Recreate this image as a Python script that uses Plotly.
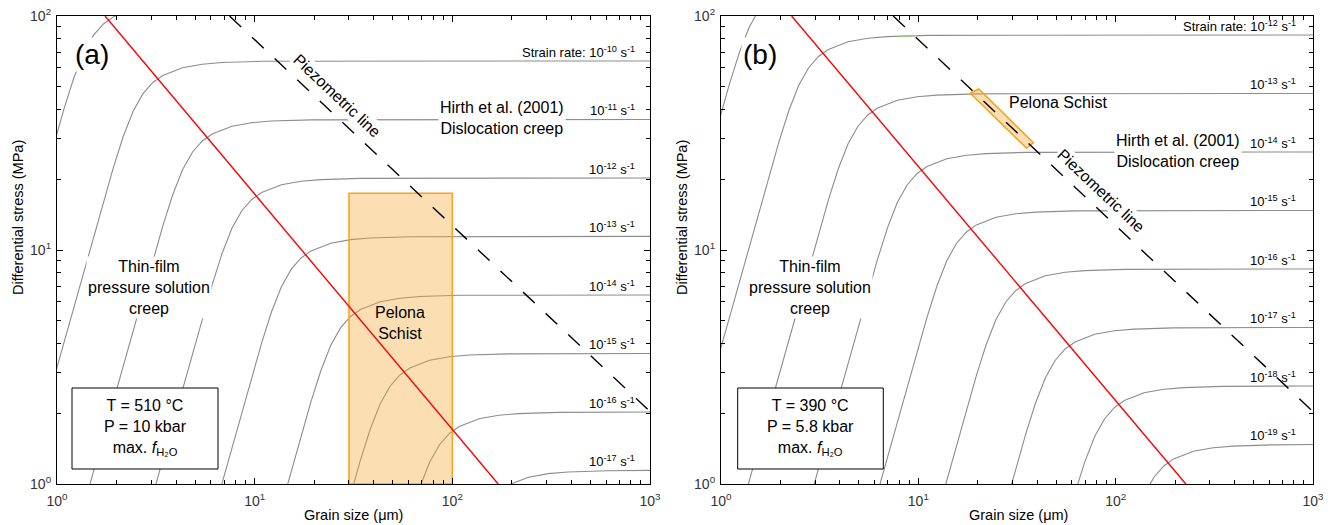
import plotly.graph_objects as go
import numpy as np

# ---------------- Panel (a): T = 510 °C, P = 10 kbar ----------------
# grain size (µm) / differential stress (MPa) along each iso-strain-rate curve
a_d_e9 = [0.1531, 0.9661, 1.084, 1.216, 1.365, 1.531, 1.718, 1.927, 2.427, 3.055, 3.846, 6.095, 1000]
a_s_e9 = [0.1143, 28.58, 39.99, 54.33, 69.67, 82.80, 92.48, 99.10, 106.9, 110.7, 112.5, 113.9, 114.3]
a_d_e10 = [0.2723, 1.718, 1.928, 2.163, 2.427, 2.723, 3.055, 3.428, 4.315, 5.433, 6.839, 10.84, 1000]
a_s_e10 = [0.0643, 16.07, 22.49, 30.55, 39.17, 46.56, 52.00, 55.72, 60.12, 62.23, 63.24, 64.02, 64.27]
a_d_e11 = [0.4842, 3.055, 3.428, 3.846, 4.315, 4.842, 5.433, 6.095, 7.674, 9.661, 12.16, 19.27, 1000]
a_s_e11 = [0.0361, 9.035, 12.65, 17.18, 22.03, 26.18, 29.24, 31.33, 33.81, 34.99, 35.56, 36.00, 36.14]
a_d_e12 = [0.8610, 5.433, 6.095, 6.839, 7.674, 8.610, 9.661, 10.84, 13.65, 17.18, 21.63, 34.28, 1000]
a_s_e12 = [0.0203, 5.080, 7.110, 9.658, 12.39, 14.72, 16.44, 17.62, 19.01, 19.68, 19.99, 20.24, 20.32]
a_d_e13 = [1.531, 9.661, 10.84, 12.16, 13.65, 15.31, 17.18, 19.27, 24.27, 30.55, 38.46, 60.95, 1000]
a_s_e13 = [0.0114, 2.858, 3.999, 5.433, 6.967, 8.280, 9.248, 9.910, 10.69, 11.07, 11.25, 11.39, 11.43]
a_d_e14 = [2.723, 17.18, 19.27, 21.63, 24.27, 27.23, 30.55, 34.28, 43.15, 54.33, 68.39, 108.4, 1000]
a_s_e14 = [0.0064, 1.607, 2.249, 3.055, 3.917, 4.656, 5.200, 5.572, 6.012, 6.223, 6.324, 6.402, 6.427]
a_d_e15 = [4.842, 30.55, 34.28, 38.46, 43.15, 48.42, 54.33, 60.95, 76.74, 96.61, 121.6, 192.7, 1000]
a_s_e15 = [0.0036, 0.9035, 1.265, 1.718, 2.203, 2.618, 2.924, 3.133, 3.381, 3.499, 3.556, 3.600, 3.614]
a_d_e16 = [8.610, 54.33, 60.95, 68.39, 76.74, 86.10, 96.61, 108.4, 136.5, 171.8, 216.3, 342.8, 1000]
a_s_e16 = [0.0020, 0.508, 0.711, 0.9658, 1.239, 1.472, 1.644, 1.762, 1.901, 1.968, 1.999, 2.024, 2.032]
a_d_e17 = [15.31, 96.61, 108.4, 121.6, 136.5, 153.1, 171.8, 192.7, 242.7, 305.5, 384.6, 609.5, 1000]
a_s_e17 = [0.0011, 0.2858, 0.3999, 0.5433, 0.6967, 0.8280, 0.9248, 0.9910, 1.069, 1.107, 1.125, 1.139, 1.143]

a_boundary_d = [1.75, 170.6]      # red field boundary
a_boundary_s = [100, 1]
a_pelona_d = [30, 100, 100, 30, 30]
a_pelona_s = [1, 1, 17.5, 17.5, 1]
a_label_exps = [-10, -11, -12, -13, -14, -15, -16, -17]

# ---------------- Panel (b): T = 390 °C, P = 5.8 kbar ----------------
b_d_e11 = [0.1563, 0.9863, 1.107, 1.242, 1.393, 1.563, 1.754, 1.968, 2.477, 3.119, 3.926, 6.223, 1000]
b_s_e11 = [0.1476, 36.90, 51.65, 70.15, 89.96, 106.9, 119.4, 128.0, 138.1, 142.9, 145.2, 147.0, 147.6]
b_d_e12 = [0.2780, 1.754, 1.968, 2.208, 2.477, 2.780, 3.119, 3.500, 4.406, 5.546, 6.982, 11.07, 1000]
b_s_e12 = [0.0830, 20.75, 29.04, 39.45, 50.58, 60.12, 67.15, 71.95, 77.63, 80.36, 81.66, 82.67, 82.99]
b_d_e13 = [0.4943, 3.119, 3.500, 3.926, 4.406, 4.943, 5.546, 6.223, 7.834, 9.863, 12.42, 19.68, 1000]
b_s_e13 = [0.0467, 11.67, 16.33, 22.18, 28.45, 33.81, 37.76, 40.46, 43.66, 45.19, 45.92, 46.49, 46.67]
b_d_e14 = [0.8790, 5.546, 6.223, 6.982, 7.834, 8.790, 9.863, 11.07, 13.93, 17.54, 22.08, 34.99, 1000]
b_s_e14 = [0.0262, 6.560, 9.181, 12.47, 15.99, 19.01, 21.23, 22.75, 24.55, 25.41, 25.82, 26.14, 26.24]
b_d_e15 = [1.563, 9.863, 11.07, 12.42, 13.93, 15.63, 17.54, 19.68, 24.77, 31.19, 39.26, 62.23, 1000]
b_s_e15 = [0.0148, 3.690, 5.165, 7.015, 8.996, 10.69, 11.94, 12.80, 13.81, 14.29, 14.52, 14.70, 14.76]
b_d_e16 = [2.780, 17.54, 19.68, 22.08, 24.77, 27.80, 31.19, 34.99, 44.06, 55.46, 69.82, 110.7, 1000]
b_s_e16 = [0.0083, 2.075, 2.904, 3.945, 5.058, 6.012, 6.715, 7.195, 7.763, 8.036, 8.166, 8.267, 8.299]
b_d_e17 = [4.943, 31.19, 35.00, 39.26, 44.06, 49.43, 55.46, 62.23, 78.34, 98.63, 124.2, 196.8, 1000]
b_s_e17 = [0.0047, 1.167, 1.633, 2.218, 2.845, 3.381, 3.776, 4.046, 4.366, 4.519, 4.592, 4.649, 4.667]
b_d_e18 = [8.790, 55.46, 62.23, 69.82, 78.34, 87.90, 98.63, 110.7, 139.3, 175.4, 220.8, 349.9, 1000]
b_s_e18 = [0.0026, 0.656, 0.9181, 1.247, 1.599, 1.901, 2.123, 2.275, 2.455, 2.541, 2.582, 2.614, 2.624]
b_d_e19 = [15.63, 98.63, 110.7, 124.2, 139.3, 156.3, 175.4, 196.8, 247.7, 311.9, 392.6, 622.3, 1000]
b_s_e19 = [0.0015, 0.369, 0.5165, 0.7015, 0.8996, 1.069, 1.194, 1.280, 1.381, 1.429, 1.452, 1.470, 1.476]

b_boundary_d = [2.28, 226.8]
b_boundary_s = [100, 1]
b_pelona_d = [18.32, 20.25, 38.28, 35.40, 18.32]
b_pelona_s = [46.77, 48.75, 28.74, 27.20, 46.77]
b_green_d = [7.85, 9.92]
b_green_s = [81.9, 82.5]
b_label_exps = [-12, -13, -14, -15, -16, -17, -18, -19]

# piezometric line (same in both panels)
piezo_d = [7.46, 1000]
piezo_s = [100, 2.04]

x_tickvals = [1, 10, 100, 1000]
x_ticktext = ["10<sup>0</sup>", "10<sup>1</sup>", "10<sup>2</sup>", "10<sup>3</sup>"]
y_tickvals = [1, 10, 100]
y_ticktext = ["10<sup>0</sup>", "10<sup>1</sup>", "10<sup>2</sup>"]
x_minor = [m * 10 ** e for e in range(3) for m in range(2, 10)]
y_minor = [m * 10 ** e for e in range(2) for m in range(2, 10)]

a_curves = [(a_d_e9, a_s_e9), (a_d_e10, a_s_e10), (a_d_e11, a_s_e11), (a_d_e12, a_s_e12),
            (a_d_e13, a_s_e13), (a_d_e14, a_s_e14), (a_d_e15, a_s_e15), (a_d_e16, a_s_e16),
            (a_d_e17, a_s_e17)]
b_curves = [(b_d_e11, b_s_e11), (b_d_e12, b_s_e12), (b_d_e13, b_s_e13), (b_d_e14, b_s_e14),
            (b_d_e15, b_s_e15), (b_d_e16, b_s_e16), (b_d_e17, b_s_e17), (b_d_e18, b_s_e18),
            (b_d_e19, b_s_e19)]

W, H = 1331, 525
FONT = "Liberation Sans, Arial, sans-serif"
GRAY = "#8c8c8c"

def px(x):
    return x / W

def py(y):
    return 1 - y / H

fig = go.Figure()

def add_panel(curves, pel_d, pel_s, bnd_d, bnd_s, xa, ya):
    for d, s in curves:
        fig.add_trace(go.Scatter(x=d, y=s, mode="lines", line=dict(color=GRAY, width=1.1),
                                 xaxis=xa, yaxis=ya, hoverinfo="skip"))
    fig.add_trace(go.Scatter(x=pel_d, y=pel_s, mode="lines", fill="toself",
                             fillcolor="rgba(247,165,50,0.37)",
                             line=dict(color="#f7a21b", width=1.5), xaxis=xa, yaxis=ya))
    fig.add_trace(go.Scatter(x=bnd_d, y=bnd_s, mode="lines", line=dict(color="#ff0000", width=1.4),
                             xaxis=xa, yaxis=ya))
    fig.add_trace(go.Scatter(x=piezo_d, y=piezo_s, mode="lines",
                             line=dict(color="black", width=1.4, dash="16px,15px"),
                             xaxis=xa, yaxis=ya))

add_panel(a_curves, a_pelona_d, a_pelona_s, a_boundary_d, a_boundary_s, "x", "y")
add_panel(b_curves, b_pelona_d, b_pelona_s, b_boundary_d, b_boundary_s, "x2", "y2")
fig.add_trace(go.Scatter(x=b_green_d, y=b_green_s, mode="lines", line=dict(color="#8fd17f", width=1.2),
                         xaxis="x2", yaxis="y2"))

xdom_a = [57 / W, 650 / W]
xdom_b = [721 / W, 1313 / W]
ydom = [41 / H, 509 / H]

axis_common = dict(type="log", showline=True, linecolor="black", linewidth=1.2, mirror="ticks",
                   ticks="inside", ticklen=6, tickwidth=1, tickcolor="black", showgrid=False,
                   zeroline=False, tickfont=dict(family=FONT, size=14, color="#333"),
                   automargin=False)
xa_common = dict(axis_common, range=[0, 3], tickmode="array", tickvals=x_tickvals, ticktext=x_ticktext,
                 ticklabelstandoff=4,
                 minor=dict(ticks="inside", ticklen=3.5, tickwidth=1, tickcolor="black", tickvals=x_minor))
ya_common = dict(axis_common, range=[0, 2], tickmode="array", tickvals=y_tickvals, ticktext=y_ticktext,
                 ticklabelstandoff=2,
                 minor=dict(ticks="inside", ticklen=3.5, tickwidth=1, tickcolor="black", tickvals=y_minor))

fig.update_layout(
    width=W, height=H, margin=dict(l=0, r=0, t=0, b=0),
    paper_bgcolor="white", plot_bgcolor="white", showlegend=False,
    font=dict(family=FONT, color="black"),
    xaxis=dict(xa_common, domain=xdom_a, anchor="y"),
    yaxis=dict(ya_common, domain=ydom, anchor="x"),
    xaxis2=dict(xa_common, domain=xdom_b, anchor="y2"),
    yaxis2=dict(ya_common, domain=ydom, anchor="x2"),
)

ann = []

def text(x, y, t, size=16, bg=None, angle=0, xanchor="center", **kw):
    d = dict(x=px(x), y=py(y), xref="paper", yref="paper", text=t, showarrow=False,
             font=dict(family=FONT, size=size, color="black"), textangle=angle,
             xanchor=xanchor, yanchor="middle", align="center")
    if bg:
        d.update(bgcolor=bg, borderpad=1)
    d.update(kw)
    ann.append(d)

# strain-rate labels, placed just above each curve's plateau
for curves, exps, xr, yr, first in [(a_curves[1:], a_label_exps, 637, "y", -10),
                                     (b_curves[1:], b_label_exps, 1298, "y2", -12)]:
    for (d, s), e in zip(curves, exps):
        lab = ("Strain rate: " if e == first else "") + f"10<sup>{e}</sup> s<sup>-1</sup>"
        ann.append(dict(x=px(xr), xref="paper", y=np.log10(s[-1]), yref=yr, yshift=9,
                        text=lab, showarrow=False, xanchor="right", yanchor="middle",
                        font=dict(family=FONT, size=13, color="black")))

# panel (a)
text(92, 54, "(a)", size=28, bg="white")
text(337, 95, "Piezometric line", angle=43.3, bg="white")
text(502, 118, "Hirth et al. (2001)<br>Dislocation creep", bg="white")
text(149, 287, "Thin-film<br>pressure solution<br>creep", bg="white")
text(400, 323, "Pelona<br>Schist")
text(145, 427, "T = 510 °C<br>P = 10 kbar<br>max. <i>f</i><sub>H₂O</sub>")
text(353.5, 515, "Grain size (μm)", size=14.5)
text(18, 218, "Differential stress (MPa)", size=14.5, angle=-90)

# panel (b)
text(760, 54, "(b)", size=28, bg="white")
text(1101, 190, "Piezometric line", angle=43.3, bg="white")
text(1178, 151, "Hirth et al. (2001)<br>Dislocation creep", bg="white")
text(810, 287, "Thin-film<br>pressure solution<br>creep", bg="white")
text(1058, 102, "Pelona Schist")
text(810.5, 427, "T = 390 °C<br>P = 5.8 kbar<br>max. <i>f</i><sub>H₂O</sub>")
text(1018, 515, "Grain size (μm)", size=14.5)
text(682, 218, "Differential stress (MPa)", size=14.5, angle=-90)

shapes = []
for x0, x1 in [(72, 218), (737.7, 883.3)]:
    shapes.append(dict(type="rect", xref="paper", yref="paper", x0=px(x0), x1=px(x1),
                       y0=py(469), y1=py(388), fillcolor="white", line=dict(color="black", width=1)))

fig.update_layout(annotations=ann, shapes=shapes)
fig.write_html("out.html")
